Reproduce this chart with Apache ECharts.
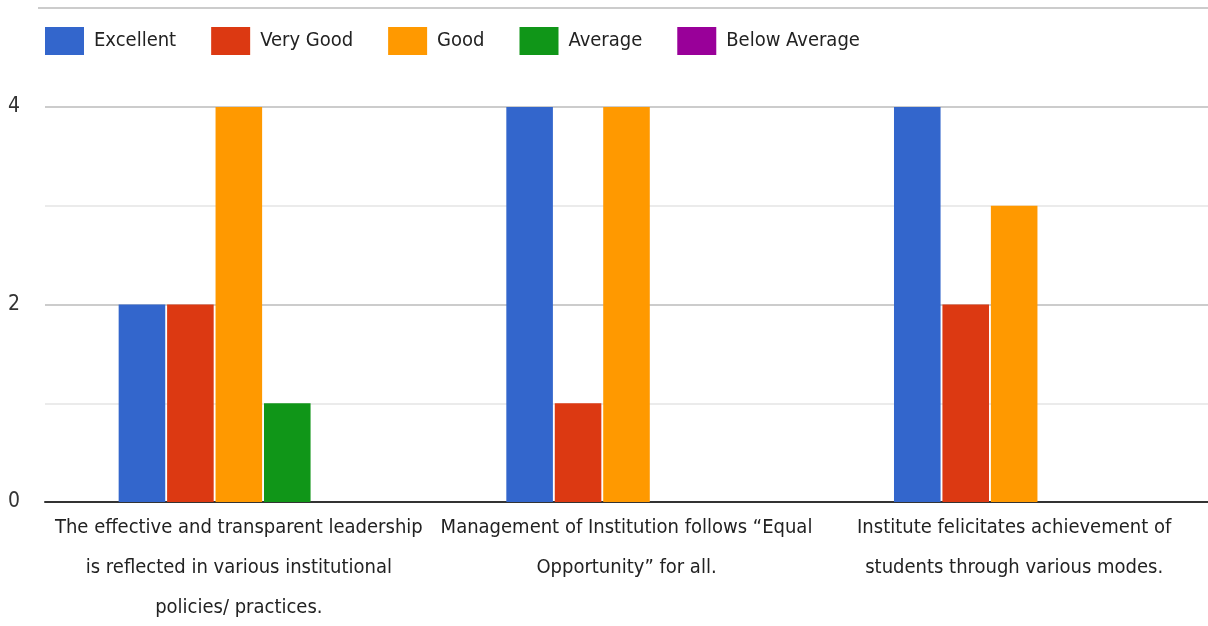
<!DOCTYPE html>
<html>
<head>
<meta charset="utf-8">
<title>Leadership survey</title>
<script src="https://cdn.jsdelivr.net/npm/echarts@6/dist/echarts.min.js"></script>
<style>
  html, body { margin: 0; padding: 0; background: #fff; }
  #chart { width: 1208px; height: 626px; }
</style>
</head>
<body>
<div id="chart"></div>
<script>
// survey questions (wrapped as in the original)
const categories = [
  'The effective and transparent leadership\nis reflected in various institutional\npolicies/ practices.',
  'Management of Institution follows \u201cEqual\nOpportunity\u201d for all.',
  'Institute felicitates achievement of\nstudents through various modes.'
];

const seriesNames = ['Excellent', 'Very Good', 'Good', 'Average', 'Below Average'];
const seriesColors = ['#3366cc', '#dc3912', '#ff9900', '#109618', '#990099'];

// responses per rating, one value per question
const excellent = [2, 4, 4];
const veryGood = [2, 1, 2];
const good = [4, 4, 3];
const average = [1, 0, 0];
const belowAverage = [0, 0, 0];

const yTicks = [0, 2, 4];

const seriesData = [excellent, veryGood, good, average, belowAverage];

const font = '"DejaVu Sans Condensed", "Roboto", sans-serif';

const chart = echarts.init(document.getElementById('chart'));

chart.setOption({
  animation: false,
  color: seriesColors,
  textStyle: { fontFamily: font },
  graphic: [
    {
      type: 'line',
      shape: { x1: 38, y1: 8, x2: 1208, y2: 8 },
      style: { stroke: '#cccccc', lineWidth: 2 }
    }
  ],
  legend: {
    left: 40,
    top: 22,
    itemWidth: 39,
    itemHeight: 28,
    itemGap: 35,
    icon: 'rect',
    textStyle: { fontSize: 20, color: '#222', fontFamily: font, padding: [0, 0, 0, 5] },
    data: seriesNames
  },
  grid: { left: 45, right: 0, top: 107, bottom: 124, outerBoundsMode: 'none' },
  xAxis: {
    type: 'category',
    data: categories,
    axisTick: { show: false },
    axisLine: { lineStyle: { color: '#333', width: 2 } },
    axisLabel: {
      interval: 0,
      margin: 6,
      fontSize: 20,
      lineHeight: 40,
      color: '#222',
      fontFamily: font,
      align: 'center'
    }
  },
  yAxis: {
    type: 'value',
    min: 0,
    max: 4,
    interval: 1,
    axisLine: { show: false },
    axisTick: { show: false },
    axisLabel: {
      margin: 25,
      fontSize: 21,
      color: '#333',
      fontFamily: font,
      formatter: v => (yTicks.includes(v) ? String(v) : '')
    },
    splitLine: { lineStyle: { color: ['#cccccc', '#ebebeb'], width: 2 } }
  },
  series: seriesNames.map((name, i) => ({
    name: name,
    type: 'bar',
    data: seriesData[i],
    barGap: '4%',
    barCategoryGap: '38%'
  }))
});
</script>
</body>
</html>
